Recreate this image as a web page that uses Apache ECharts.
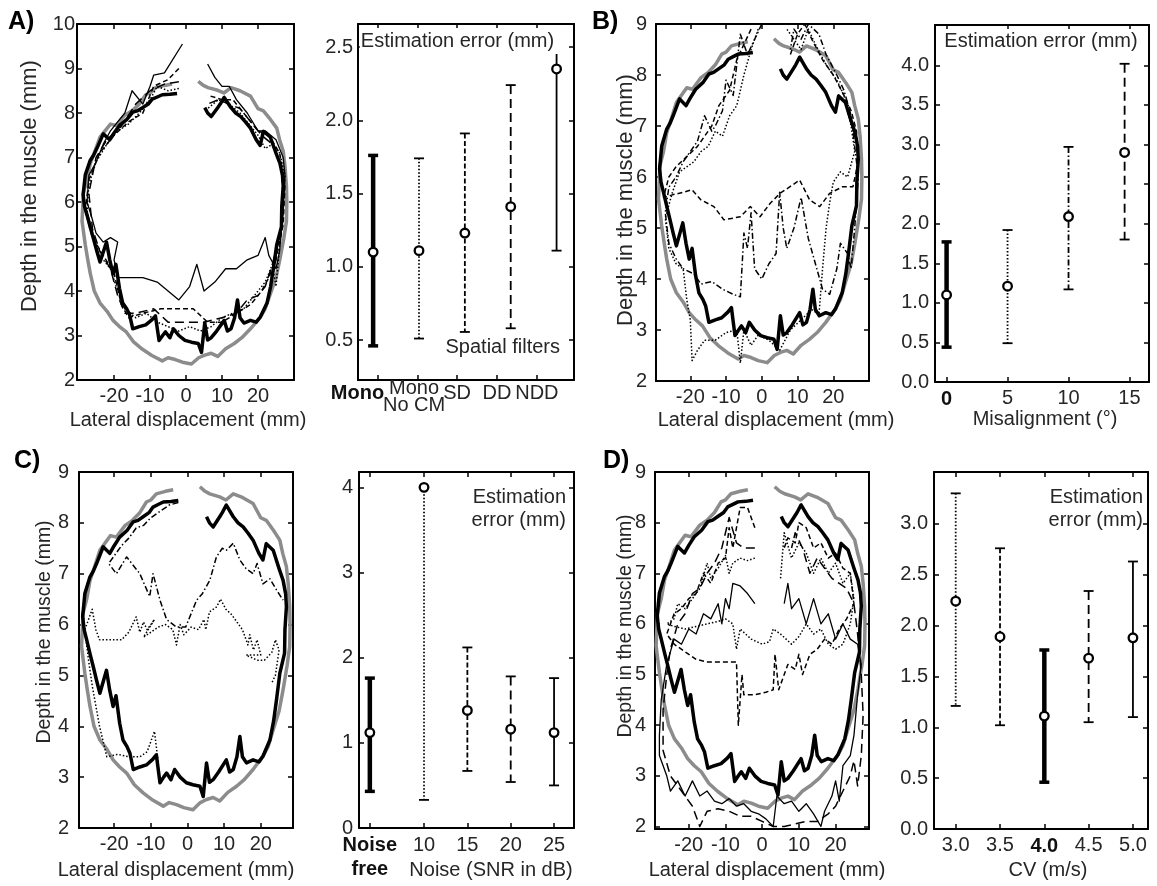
<!DOCTYPE html>
<html><head><meta charset="utf-8">
<script src="https://cdn.jsdelivr.net/npm/echarts@6/dist/echarts.min.js"></script>
<style>html,body{margin:0;padding:0;background:#fff}#c{width:1157px;height:886px}</style>
</head><body><div id="c"></div><script>
// ---------------- DATA ----------------
// true muscle contour (grey) and Mono reference estimate (thick black), [lateral mm, depth mm]
const trueContour = [[-3.9,8.65],[-6,8.62],[-8.5,8.57],[-10,8.45],[-11.2,8.41],[-13,8.2],[-15,8.05],[-17,7.95],[-19.4,7.72],[-21,7.75],[-23.9,7.46],[-25.5,7.1],[-26.6,6.87],[-27.5,6.5],[-28.5,6.22],[-28.9,5.57],[-28,5.04],[-27.3,4.7],[-26.6,4.39],[-25.5,4.0],[-23.9,3.73],[-22,3.55],[-20.3,3.34],[-18.5,3.2],[-16.6,3.08],[-14.5,2.85],[-12.1,2.69],[-9.5,2.55],[-6.6,2.43],[-5,2.5],[-3,2.46],[-1,2.4],[1.5,2.36],[3.5,2.5],[5.2,2.56],[7,2.6],[8.8,2.53],[11,2.7],[13.4,2.82],[15.5,2.95],[17.9,3.15],[20.6,3.41],[22,3.6],[23.4,3.93],[25,4.3],[26.1,4.72],[27.2,5.2],[27.9,5.57],[28,6.0],[27.9,6.35],[27.5,6.8],[27,7.14],[26,7.4],[25.2,7.66],[23.5,7.85],[21.5,8.05],[20,8.1],[17.9,8.38],[15,8.5],[12.5,8.57],[10.5,8.45],[8.8,8.51],[6.1,8.57],[4.8,8.62],[3.4,8.71]];
const monoEstimate = [[-2.5,8.44],[-4.5,8.42],[-6.6,8.41],[-8,8.36],[-9.4,8.31],[-10.5,8.2],[-12.1,8.12],[-13.5,8.05],[-14.8,8.02],[-16.5,7.85],[-18.5,7.72],[-20,7.55],[-21.2,7.4],[-23,7.53],[-24.8,7.2],[-25.7,7.05],[-26.6,6.94],[-28,6.61],[-28.6,6.16],[-28.2,5.9],[-27.5,5.7],[-26.5,5.4],[-25.7,5.17],[-24.8,4.9],[-23.9,4.65],[-22.1,5.1],[-21.2,4.7],[-20.3,4.39],[-19.5,4.6],[-18.5,4.06],[-17.6,3.73],[-16.5,3.6],[-15.7,3.47],[-14.8,3.15],[-13,3.2],[-11.2,3.24],[-9.5,3.35],[-8.5,3.44],[-7.5,2.89],[-6.5,3.0],[-5.7,3.08],[-4.5,2.95],[-3.5,3.15],[-2,3.0],[-0.3,2.89],[1.5,2.85],[3.4,2.82],[4.3,2.62],[5.2,3.28],[6,2.9],[7,2.95],[8.5,3.1],[10.6,3.34],[11.5,3.1],[12.5,3.15],[13.5,3.4],[14.3,3.8],[15,3.4],[16.1,3.28],[17.9,3.34],[19.5,3.3],[20.6,3.41],[22.5,3.73],[23.5,4.1],[24.3,4.52],[25.2,5.04],[26.5,5.44],[26.6,5.9],[27,6.35],[26.8,6.6],[26.1,6.87],[25,7.1],[23.4,7.46],[21.5,7.59],[20.6,7.27],[19.5,7.4],[17.9,7.66],[16.5,7.8],[15.2,7.92],[13.8,8.0],[12.5,8.12],[10.6,8.35],[9.5,8.2],[8.8,8.12],[7,7.92],[6,8.0],[5.2,8.12]];

// Panel A: spatial filters
const aMonoNoCM = [[-2,8.55],[-5,8.5],[-8,8.6],[-10,8.3],[-13,8.0],[-16,7.75],[-19,7.6],[-22,7.3],[-25,6.9],[-27,6.4],[-27.5,5.8],[-26,5.3],[-24,4.8],[-21,4.5],[-19,4.0],[-17,3.6],[-14,3.4],[-11,3.5],[-8,3.3],[-5,3.2],[-2,3.1],[1,3.2],[4,3.1],[7,3.2],[10,3.4],[13,3.5],[16,3.6],[19,3.9],[22,4.2],[24,4.6],[25,4.1],[26,5.0],[27,5.8],[27.5,6.6],[26,7.1],[24,7.3],[22,7.2],[20,7.5],[18,7.7],[15,8.0],[12,8.2],[9,8.3],[6,8.1]];
const aSD = [[-2,9.0],[-5,8.75],[-9,8.6],[-12,8.0],[-16,7.8],[-20,7.5],[-24,7.1],[-27,6.5],[-28,5.8],[-26,5.2],[-23,4.8],[-20,4.4],[-18,3.7],[-16,3.4],[-12,3.5],[-7,3.6],[-3,3.6],[2,3.6],[6,3.3],[10,3.3],[14,3.5],[18,3.7],[21,4.0],[23,4.3],[25,4.7],[27,5.5],[27.5,6.4],[26,7.1],[23,7.5],[20,7.6],[17,7.9],[13,8.3],[10,8.3],[6,8.4]];
const aDD = [[-2,8.7],[-6,8.65],[-10,8.5],[-14,8.2],[-18,7.7],[-22,7.4],[-25,7.0],[-27,6.2],[-26,5.4],[-24,4.9],[-21,4.5],[-19,3.9],[-17,3.5],[-14,3.5],[-9,3.6],[-5,3.3],[0,3.3],[5,3.3],[10,3.4],[14,3.5],[17,3.8],[20,3.9],[22,4.1],[24,4.6],[26,5.2],[27,6.0],[26.5,6.8],[24,7.3],[21,7.5],[18,7.8],[15,8.1],[12,8.2],[9,8.3],[6,8.2]];
const aNDD = [[-1,9.55],[-6,8.9],[-9,8.85],[-10,8.6],[-12,8.2],[-15,8.5],[-17,8.0],[-19,7.8],[-21,7.6],[-23,7.3],[-25,6.9],[-27,6.6],[-27.5,6.0],[-26,5.6],[-25,5.3],[-23,5.1],[-21,5.2],[-19,5.1],[-20,4.7],[-19,4.3],[-17,4.3],[-12,4.3],[-8,4.2],[-5,4.0],[-2,3.8],[1,4.1],[3,4.6],[5,4.0],[8,4.2],[11,4.5],[14,4.5],[17,4.7],[20,4.8],[22,5.2],[23,4.8],[25,4.5],[26,4.9],[27,5.8],[27.5,6.6],[27,7.0],[25,7.4],[22,7.6],[20,7.6],[17,8.0],[14,8.3],[12,8.6],[10,8.6],[8,8.8],[6,9.1]];
const aLabels = ['Mono','Mono\nNo CM','SD','DD','NDD'];
const aPos = [1,2,3,4,5];            // where the error bars are drawn
const aTickPos = [1.11,1.98,2.83,3.70,4.57]; // where the category ticks/labels sit
const aMean = [1.10,1.11,1.23,1.41,2.35];
const aLow = [0.46,0.51,0.555,0.58,1.11];
const aHigh = [1.76,1.74,1.91,2.24,2.55];

// Panel B: misalignment
const bDotted = [[-1,8.9],[-3,8.5],[-5,8.0],[-7,7.4],[-9,7.2],[-11,6.8],[-13,6.9],[-15,6.6],[-17,6.5],[-19,6.3],[-21,6.2],[-23,6.1],[-25,5.7],[-27,5.2],[-26,4.6],[-24,4.3],[-22,4.2],[-21,3.6],[-20,3.2],[-19.5,2.4],[-18,2.6],[-16,2.8],[-13,2.8],[-10,2.95],[-7,3.0],[-6,2.35],[-5,3.0],[-3,2.7],[-1,2.9],[2,2.8],[5,2.6],[8,3.0],[11,3.2],[14,3.4],[16,3.3],[17,4.2],[18,5.0],[19,5.5],[20,5.9],[22,6.1],[24,6.0],[26,6.5],[25,7.0],[23,7.6],[21,7.9],[18,8.2],[15,8.6],[13,8.9],[11,8.5],[9,8.7],[7,8.9]];
const bDashDot = [[0,9.0],[-2,8.7],[-4,8.4],[-6,8.8],[-7,8.2],[-8,7.6],[-10,7.9],[-11,7.3],[-13,7.0],[-14,6.9],[-16,7.2],[-18,6.7],[-20,6.5],[-22,6.3],[-24,6.0],[-26,5.8],[-27,5.3],[-26,4.7],[-24,4.4],[-22,4.2],[-19,4.1],[-17,3.9],[-14,3.95],[-11,3.8],[-8,3.7],[-6,3.65],[-5,4.9],[-4,4.6],[-3,5.3],[-2,4.2],[0,4.0],[2,4.3],[4,4.5],[5,5.7],[6,5.0],[7,4.6],[9,5.0],[11,5.6],[13,4.8],[15,4.3],[17,3.8],[19,3.7],[21,4.2],[22,4.7],[24,4.5],[25,4.2],[26,5.0],[27,6.0],[26,6.6],[25,7.2],[23,7.7],[21,8.0],[18,8.4],[16,8.8],[13,9.0],[11,8.7],[9,8.9],[8,8.5]];
const bDashed = [[-3,8.9],[-5,8.6],[-7,8.3],[-9,7.7],[-12,7.4],[-14,7.0],[-16,6.8],[-18,6.6],[-21,6.4],[-24,6.2],[-26,6.0],[-27.5,5.6],[-25,5.65],[-22,5.7],[-19.5,5.75],[-17,5.55],[-13.4,5.42],[-10.6,5.16],[-6,5.22],[-3.2,5.42],[-0.5,5.22],[2.3,5.48],[5.1,5.68],[7.9,5.81],[10.6,5.94],[13.4,5.55],[16.2,5.42],[19,5.68],[22.7,5.81],[25.5,5.81],[27,6.3],[26.5,6.9],[25,7.3],[23,7.6],[20,8.0],[17,8.3],[14,8.7],[12,9.0],[10,8.8],[8,8.4]];
const bTicks = [0,5,10,15];
const bPos = [0,5,10,14.6];
const bMean = [1.10,1.21,2.09,2.90];
const bLow = [0.44,0.49,1.17,1.80];
const bHigh = [1.77,1.92,2.97,4.02];

// Panel C: noise
const cDotted = [[-8,3.3],[-9,3.9],[-11,3.5],[-13,3.4],[-16,3.4],[-19,3.45],[-22,3.4],[-24,4.0],[-26,4.8],[-27,5.3],[-28,5.9],[-27,6.1],[-26,6.3],[-25,5.9],[-24,5.7],[-21,5.7],[-18,5.7],[-16,5.85],[-15,6.0],[-14,6.15],[-13,5.85],[-12,6.05],[-11,5.9],[-9,6.1],[-12,5.75],[-8,5.95],[-6,6.0],[-4,5.9],[-3,5.6],[-2,6.0],[-1,5.8],[1,5.95],[3,5.9],[4.5,6.1],[5,5.9],[6,6.25],[8,6.35],[9,6.5],[10.5,6.3],[12,6.2],[13.5,6.05],[15,5.9],[16.5,5.6],[17,5.8],[18,5.5],[19,5.7],[20,5.4],[16,5.4],[19,5.3],[21,5.3],[23,5.45],[24,5.7],[25,5.5],[24,5.0],[23,4.85]];
const cDashDot = [[-2.5,8.4],[-5,8.35],[-8,8.2],[-10,8.1],[-12,7.95],[-14,7.9],[-16,7.7],[-18,7.55],[-20,7.35],[-21.5,7.2],[-19.4,7.0],[-16.6,7.33],[-13,7.0],[-10.3,6.55],[-9.4,7.0],[-7.5,6.48],[-5.7,6.1],[-3,5.95],[-0.5,5.95],[2.5,6.48],[4,6.6],[6.1,6.87],[7.9,7.33],[9.5,7.5],[10.6,7.46],[12.5,7.6],[14.3,7.27],[16,7.1],[17.9,7.0],[19,7.2],[20.6,6.8],[22.5,6.9],[24.3,6.68],[26.1,6.48]];
const cLabels = ['Noise\nfree','10','15','20','25'];
const cPos = [3.75,10,15,20,25];
const cMean = [1.12,4.0,1.38,1.16,1.12];
const cLow = [0.43,0.33,0.67,0.54,0.50];
const cHigh = [1.76,4.0,2.12,1.78,1.76];

// Panel D: conduction velocity
const dDotted = [[-2,7.3],[-4,7.25],[-6,7.3],[-8,7.2],[-9,7.0],[-10,7.35],[-12,7.1],[-14,6.9],[-15,7.2],[-17,6.7],[-19,6.5],[-21,6.3],[-23,6.4],[-24,6.1],[-26,6.0],[-24,5.95],[-21,5.9],[-18,5.95],[-15,6.0],[-12,6.05],[-10,6.1],[-8,6.0],[-7,5.5],[-6,5.9],[-3,5.7],[0,5.6],[2,5.65],[3,5.9],[5,5.8],[8,5.6],[10,5.75],[12,6.0],[14,5.8],[16,5.9],[18,5.6],[20,5.5],[22,5.6],[24,6.0],[25,6.5],[24,7.0],[22,6.8],[20,7.2],[18,7.0],[16,7.3],[14,7.0],[12,7.4],[10,7.6],[8,7.3],[6,7.8],[5,6.9]];
const dDashed = [[-2,7.9],[-4,8.3],[-6,8.3],[-8,7.5],[-9,7.9],[-10,7.3],[-12,7.2],[-14,6.8],[-16,7.0],[-18,6.6],[-20,6.5],[-22,6.3],[-24,6.2],[-26,5.8],[-24,5.6],[-21,5.45],[-18,5.3],[-15,5.25],[-11,5.25],[-7,5.25],[-6.5,4.0],[-5.5,5.0],[-5,4.6],[-2,4.6],[1,4.65],[3,4.7],[3.5,5.4],[4.5,4.7],[6,5.0],[7,5.2],[9,5.1],[10,5.4],[11,5.0],[13,5.4],[15,5.5],[17,5.7],[19,5.6],[21,5.9],[23,6.1],[25,6.4],[24,7.0],[22,7.1],[20,7.4],[18,7.3],[16,7.6],[14,7.5],[12,7.9],[10,8.0],[9,7.6],[7,7.7],[6,7.5]];
const dLongDash = [[-2,7.5],[-5,7.5],[-7,7.6],[-9,8.1],[-11,7.5],[-13,7.2],[-15,7.0],[-17,6.7],[-19,6.6],[-21,6.2],[-23,6.0],[-25,5.5],[-26,5.0],[-27,4.3],[-27,3.5],[-25,3.0],[-23,2.8],[-21,2.6],[-19,2.4],[-17,2.0],[-15,2.3],[-12,2.35],[-9,2.3],[-6,2.2],[-3,2.2],[0,2.1],[3,2.0],[6,2.0],[9,2.05],[12,2.1],[15,2.1],[18,2.25],[20,2.4],[22,2.7],[24,3.0],[25,3.3],[26,2.8],[27,3.4],[27.5,4.2],[27,5.0],[26,5.8],[25,6.4],[23,6.7],[21,6.8],[19,6.9],[17,7.1],[15,7.3],[13,7.0],[11,7.5],[9,7.8],[8,7.5]];
const dSolid = [[-2,6.4],[-4,6.6],[-6,6.75],[-8,6.8],[-9,6.3],[-10,6.5],[-11,6.0],[-12,6.4],[-14,6.1],[-16,6.2],[-18,5.8],[-20,5.9],[-22,5.6],[-24,5.7],[-26,5.2],[-27.5,4.5],[-28,3.8],[-28,3.4],[-26,3.0],[-25,2.7],[-23,2.9],[-21,2.6],[-19,2.9],[-17,2.6],[-15,2.7],[-13,2.5],[-11,2.45],[-9,2.55],[-7,2.4],[-5,2.45],[-3,2.3],[-1,2.25],[1,2.15],[3,2.0],[4,2.6],[6,2.45],[8,2.5],[10,2.3],[12,2.45],[14,2.25],[16,2.0],[17,2.3],[19,2.6],[20,2.9],[21,2.5],[22,3.2],[24,3.4],[25,3.8],[26,4.6],[27,5.2],[26,5.6],[24,5.7],[22,6.0],[20,5.7],[18,6.2],[16,6.0],[14,6.5],[12,6.0],[10,6.5],[8,6.3],[7,6.8],[6,6.4]];
const dCV = [3.0,3.5,4.0,4.5,5.0];
const dMean = [2.24,1.89,1.11,1.68,1.88];
const dLow = [1.21,1.02,0.46,1.05,1.10];
const dHigh = [3.30,2.76,1.76,2.34,2.63];

// tick labels
const lateralTicks = [-20,-10,0,10,20];
const depthTicks10 = [2,3,4,5,6,7,8,9,10];
const depthTicks9 = [2,3,4,5,6,7,8,9];
const aErrTicks = [0.5,1.0,1.5,2.0,2.5];
const bErrTicks = [0,0.5,1.0,1.5,2.0,2.5,3.0,3.5,4.0];
const cErrTicks = [0,1,2,3,4];
const dErrTicks = [0,0.5,1.0,1.5,2.0,2.5,3.0];

// ---------------- BUILD ----------------
const FONT = '"Liberation Sans", Arial, Helvetica, sans-serif';
const TXT = '#262626';
const grids=[], xAxes=[], yAxes=[], series=[], graphics=[];
const RICH = {b:{fontWeight:'bold', fontSize:20, fontFamily:FONT, color:'#111', lineHeight:24}};

function addGrid(rect, xr, yr, xt, yt, xfmt, yfmt, xm, ym, xlh, hideX){
  const gi = grids.length;
  grids.push({left:rect[0], top:rect[1], width:rect[2], height:rect[3], show:false, containLabel:false, outerBoundsMode:'none'});
  const line = {show:true, onZero:false, lineStyle:{color:'#000', width:2}};
  const tick = v => ({show:true, inside:true, length:5, customValues:v, lineStyle:{color:'#000', width:1.5}});
  const lab = (v,f,m,lh) => ({show:true, customValues:v, formatter:f, margin:m, color:TXT, fontSize:20, fontFamily:FONT, rich:RICH, lineHeight:lh||22, hideOverlap:false, showMinLabel:true, showMaxLabel:true});
  xAxes.push({type:'value', gridIndex:gi, position:'bottom', min:xr[0], max:xr[1], axisLine:line, axisTick:tick(xt), axisLabel:hideX?{show:false}:lab(xt,xfmt,xm,xlh), splitLine:{show:false}});
  xAxes.push({type:'value', gridIndex:gi, position:'top', min:xr[0], max:xr[1], axisLine:line, axisTick:tick(xt), axisLabel:{show:false}, splitLine:{show:false}});
  yAxes.push({type:'value', gridIndex:gi, position:'left', min:yr[0], max:yr[1], axisLine:line, axisTick:tick(yt), axisLabel:lab(yt,yfmt,ym), splitLine:{show:false}});
  yAxes.push({type:'value', gridIndex:gi, position:'right', min:yr[0], max:yr[1], axisLine:line, axisTick:tick(yt), axisLabel:{show:false}, splitLine:{show:false}});
  return gi;
}
const LS = {
  grey:{color:'#8c8c8c', width:3.5, type:'solid'},
  thick:{color:'#000', width:3.5, type:'solid'},
  dotted:{color:'#000', width:1.5, type:[1.5,2]},
  dashed:{color:'#000', width:1.5, type:[5,3]},
  longdash:{color:'#000', width:1.5, type:[9,5]},
  dashdot:{color:'#000', width:1.5, type:[6,2.5,1.5,2.5]},
  solid:{color:'#000', width:1.3, type:'solid'}
};
function addLine(gi, data, st, z){
  series.push({type:'line', xAxisIndex:2*gi, yAxisIndex:2*gi, data:data, showSymbol:false, symbol:'none', silent:true, animation:false, z:z||3,
    lineStyle:Object.assign({join:'round'}, LS[st])});
}
const ES = {
  thick:{w:4.5, dash:null, cap:3.5},
  dotted:{w:1.8, dash:[1.5,2], cap:1.8},
  dashed:{w:1.8, dash:[5,2.5], cap:1.8},
  longdash:{w:1.8, dash:[9,5], cap:1.8},
  dashdot:{w:1.8, dash:[6,2.5,1.5,2.5], cap:1.8},
  solid:{w:1.8, dash:null, cap:1.8}
};
function addErr(gi, xs, mean, lo, hi, styles){
  const data = xs.map((x,i)=>[x, mean[i], lo[i], hi[i]]);
  series.push({type:'custom', xAxisIndex:2*gi, yAxisIndex:2*gi, data:data, silent:true, animation:false, z:5, clip:false,
    encode:{x:0, y:[1,2,3]},
    renderItem:function(params, api){
      const st = ES[styles[params.dataIndex]];
      const x = api.value(0);
      const pm = api.coord([x, api.value(1)]);
      const pl = api.coord([x, api.value(2)]);
      const ph = api.coord([x, api.value(3)]);
      const cw = 5;
      return {type:'group', children:[
        {type:'line', shape:{x1:pm[0], y1:ph[1], x2:pm[0], y2:pl[1]}, style:{stroke:'#000', lineWidth:st.w, lineDash:st.dash, fill:null}},
        {type:'line', shape:{x1:pm[0]-cw, y1:ph[1], x2:pm[0]+cw, y2:ph[1]}, style:{stroke:'#000', lineWidth:st.cap}},
        {type:'line', shape:{x1:pm[0]-cw, y1:pl[1], x2:pm[0]+cw, y2:pl[1]}, style:{stroke:'#000', lineWidth:st.cap}},
        {type:'circle', shape:{cx:pm[0], cy:pm[1], r:4.3}, style:{fill:'#fff', stroke:'#000', lineWidth:2.3}}
      ]};
    }});
}
const intFmt = v => String(Math.round(v));
const dec1 = v => v.toFixed(1);
function contourPanel(rect, xr, yr, yt, ym, extras){
  const gi = addGrid(rect, xr, yr, lateralTicks, yt, intFmt, intFmt, 5, ym);
  addLine(gi, trueContour, 'grey', 2);
  addLine(gi, monoEstimate, 'thick', 3);
  extras.forEach(e => addLine(gi, e[0], e[1], 4));
  return gi;
}

// Panel A
contourPanel([77,24,217,356],[-30.3,30],[2,10],depthTicks10,2,[[aMonoNoCM,'dotted'],[aSD,'dashed'],[aDD,'longdash'],[aNDD,'solid']]);
const gA = addGrid([358,24,216,356],[0.67,5.38],[0.227,2.657],aTickPos,aErrTicks, null, dec1, 4, 5, 18, true);
addErr(gA, aPos, aMean, aLow, aHigh, ['thick','dotted','dashed','longdash','solid']);

// Panel B
contourPanel([656,24,213,357],[-29.6,30],[2,9],depthTicks9,9,[[bDotted,'dotted'],[bDashDot,'dashdot'],[bDashed,'dashed']]);
let g = addGrid([935,25,214,357],[-0.95,16.6],[0,4.51],bTicks,bErrTicks,
  v => v===bTicks[0] ? '{b|'+intFmt(v)+'}' : intFmt(v), dec1, 5, 6);
addErr(g, bPos, bMean, bLow, bHigh, ['thick','dotted','dashdot','longdash']);

// Panel C
contourPanel([79,472,214,356],[-29.6,28.8],[2,9],depthTicks9,10,[[cDotted,'dotted'],[cDashDot,'dashdot']]);
g = addGrid([359,472,215,356],[2.5,27.3],[0,4.18],cPos,cErrTicks,
  v => { const i = cPos.indexOf(v); return i===0 ? '{b|Noise}\n{b|free}' : cLabels[i]; }, intFmt, 5, 6, 24);
addErr(g, cPos, cMean, cLow, cHigh, ['thick','dotted','dashed','longdash','solid']);

// Panel D
contourPanel([655,472,214,357],[-29.2,29.1],[1.95,9],depthTicks9,9,[[dDotted,'dotted'],[dDashed,'dashed'],[dLongDash,'longdash'],[dSolid,'solid']]);
g = addGrid([934,472,214,357],[2.755,5.17],[0,3.51],dCV,dErrTicks,
  v => v===dCV[2] ? '{b|'+dec1(v)+'}' : dec1(v), dec1, 5, 6);
addErr(g, dCV, dMean, dLow, dHigh, ['dotted','dashed','thick','longdash','solid']);

// texts
function txt(x,y,s,o){ graphics.push(Object.assign({type:'text', x:x, y:y, z:100, style:Object.assign({text:s, fill:TXT, font:'20px '+FONT, textAlign:'center', textVerticalAlign:'middle'}, o||{})})); }
function vtxt(x,y,s,size){ graphics.push({type:'text', x:x, y:y, rotation:Math.PI/2, z:100, style:{text:s, fill:TXT, font:size+'px '+FONT, textAlign:'center', textVerticalAlign:'middle'}}); }
const BOLD = {font:'bold 25px '+FONT, fill:'#000', textAlign:'left'};
txt(8,22,'A)',BOLD); txt(592,22,'B)',BOLD); txt(14,461,'C)',BOLD); txt(603,461,'D)',BOLD);
vtxt(30,186,'Depth in the muscle (mm)',22);
vtxt(626,200,'Depth in the muscle (mm)',22);
vtxt(45,632,'Depth in the muscle (mm)',19.5);
vtxt(626,626,'Depth in the muscle (mm)',19.5);
txt(188,420,'Lateral displacement (mm)');
txt(776,420,'Lateral displacement (mm)');
txt(176,870,'Lateral displacement (mm)');
txt(767,870,'Lateral displacement (mm)');
txt(1045,419,'Misalignment (°)');
txt(491,870,'Noise (SNR in dB)');
txt(1048,870,'CV (m/s)');
txt(461,41,'Estimation error (mm)',{backgroundColor:'#fff', padding:[3,8,3,1]});
txt(1041,41,'Estimation error (mm)',{backgroundColor:'#fff', padding:[2,2]});
txt(560,347,'Spatial filters',{textAlign:'right'});
txt(566,497,'Estimation',{textAlign:'right'});
txt(566,520,'error (mm)',{textAlign:'right'});
txt(1143,497,'Estimation',{textAlign:'right'});
txt(1143,520,'error (mm)',{textAlign:'right'});

const chart = echarts.init(document.getElementById('c'), null, {renderer:'canvas'});
chart.setOption({animation:false, backgroundColor:'#fff', grid:grids, xAxis:xAxes, yAxis:yAxes, series:series, graphic:graphics});

// Panel A category labels, placed at the axis ticks through the axis scale
const baseY = chart.convertToPixel({yAxisIndex:2*gA}, 0.227);
aTickPos.forEach((p,i) => {
  const px = chart.convertToPixel({xAxisIndex:2*gA}, p);
  if (i===0) txt(px+6, baseY+13, aLabels[i], {font:'bold 20px '+FONT, fill:'#111', textAlign:'right'});
  else if (aLabels[i].indexOf('\n')>=0) { const parts = aLabels[i].split('\n'); txt(px-4, baseY+8, parts[0]); txt(px-4, baseY+25, parts[1]); }
  else txt(px, baseY+13, aLabels[i]);
});
chart.setOption({graphic:graphics});
</script></body></html>
